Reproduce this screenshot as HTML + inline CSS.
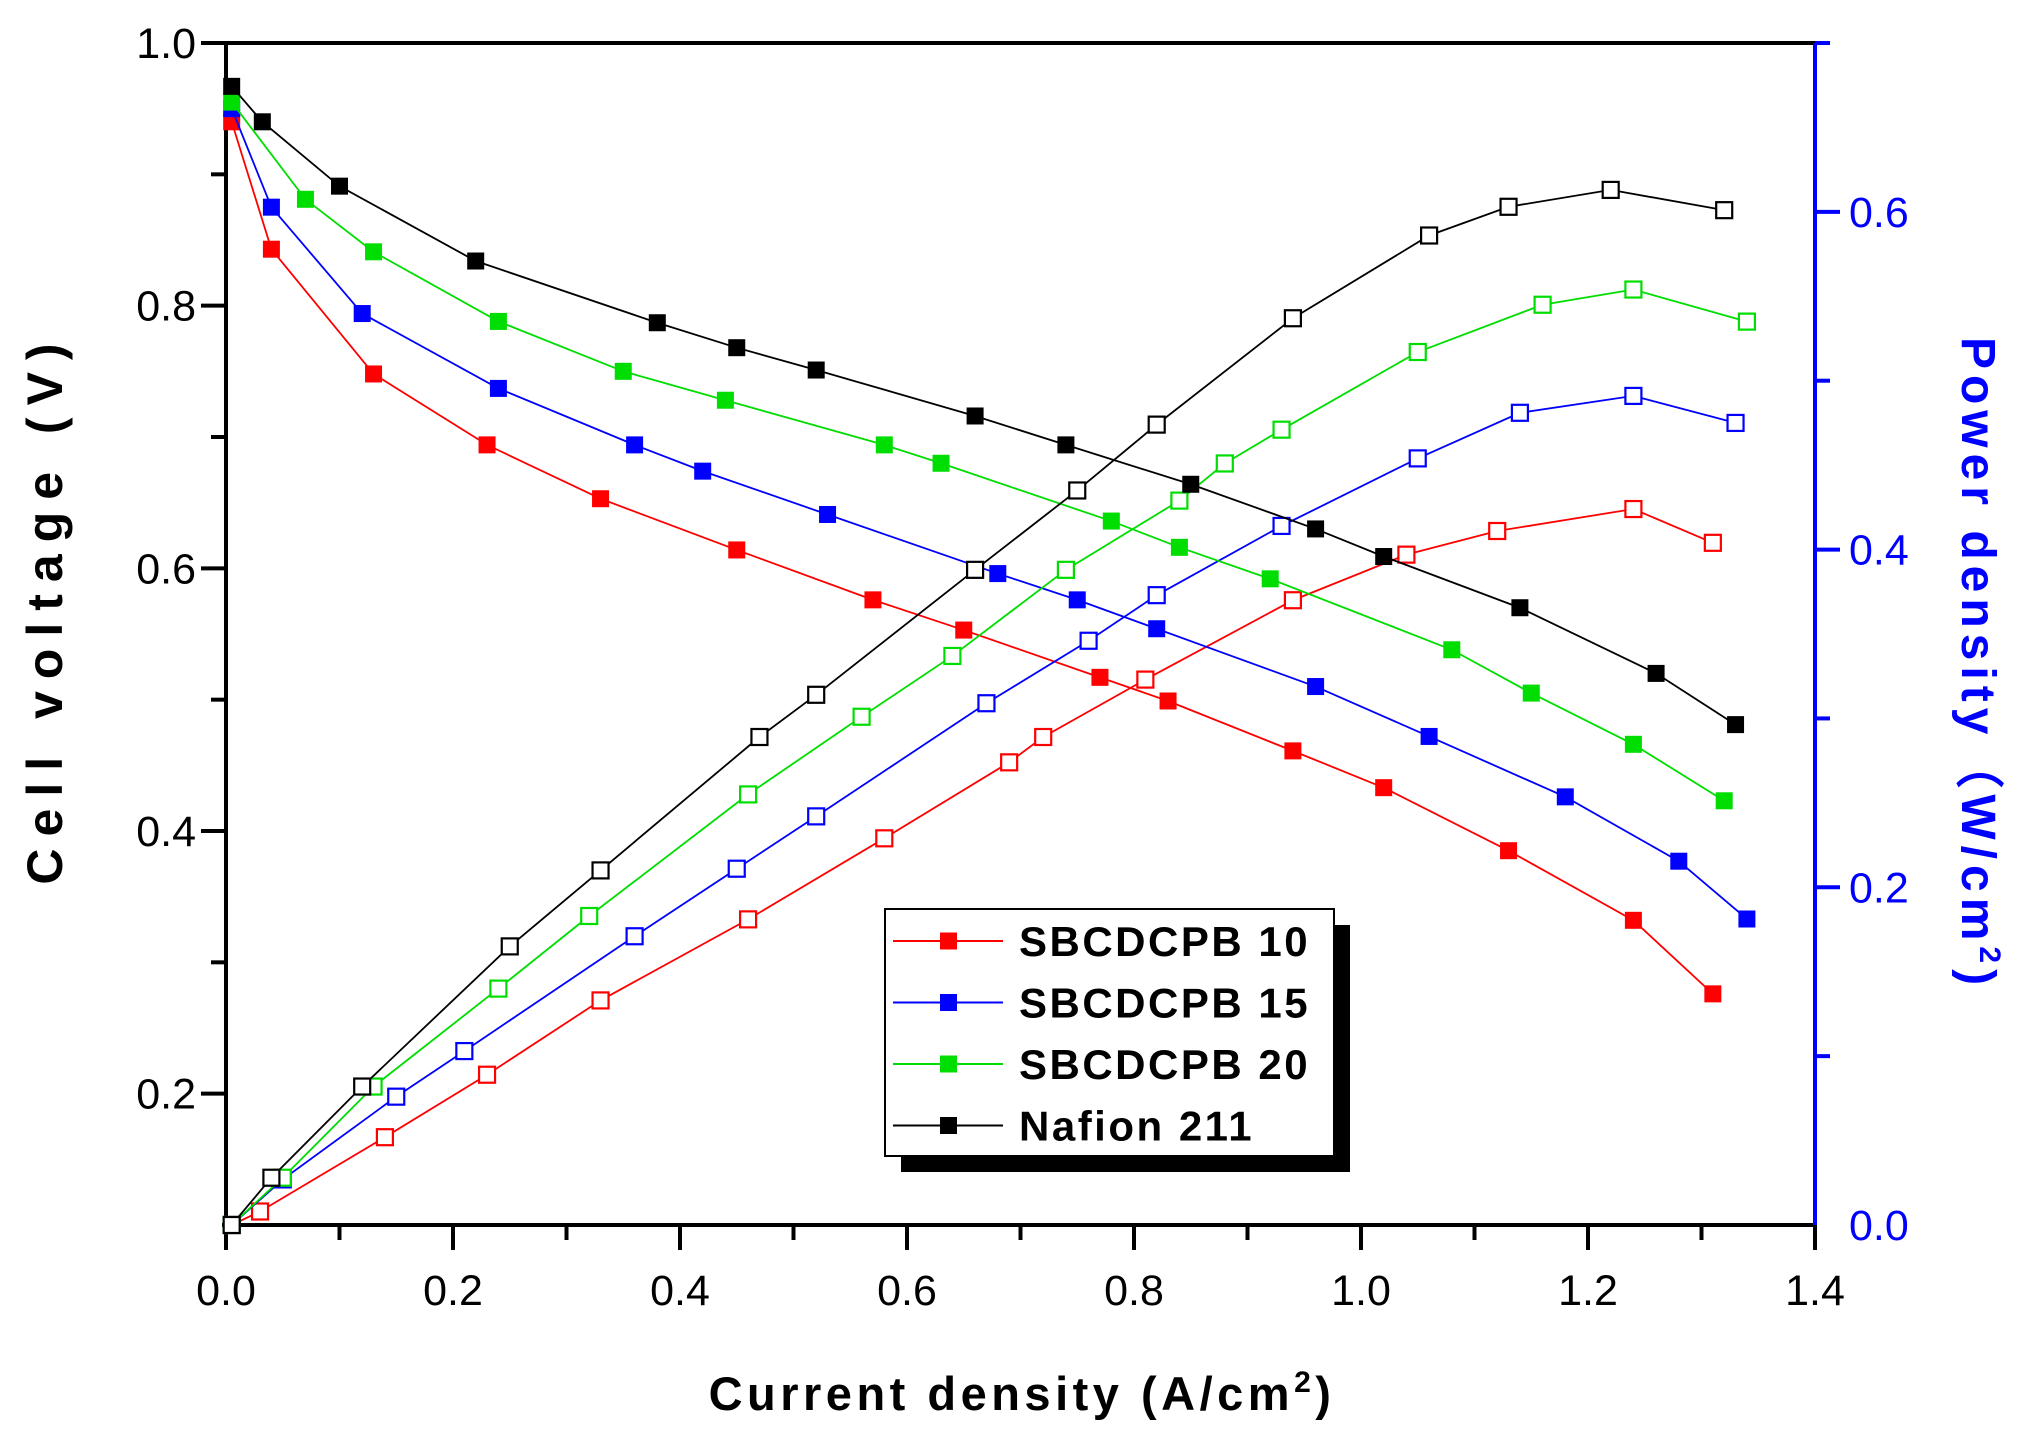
<!DOCTYPE html>
<html><head><meta charset="utf-8"><style>
body{margin:0;background:#fff;}
svg text{font-family:"Liberation Sans",sans-serif;}
</style></head><body>
<svg id="chart" width="2041" height="1443" viewBox="0 0 2041 1443" xmlns="http://www.w3.org/2000/svg">
<g id="axes"></g>
<g id="series"></g>
<g id="legend"></g>
<text x="1022" y="1410" text-anchor="middle" font-size="47" font-weight="bold" letter-spacing="4.5">Current density (A/cm<tspan dy="-18" font-size="30">2</tspan><tspan dy="18">)</tspan></text>
<text transform="translate(62,608) rotate(-90)" text-anchor="middle" font-size="50" font-weight="bold" letter-spacing="12">Cell voltage (V)</text>
<text transform="translate(1962,664) rotate(90)" text-anchor="middle" font-size="48" font-weight="bold" fill="#0000ff" letter-spacing="6">Power density（W/cm<tspan dy="-18" font-size="30">2</tspan><tspan dy="18">)</tspan></text>
</svg>
<script>
const xTicks=[0.0,0.2,0.4,0.6,0.8,1.0,1.2,1.4];
const yLeftTicks=[0.2,0.4,0.6,0.8,1.0];
const yRightTicks=[0.0,0.2,0.4,0.6];
const seriesNames=["SBCDCPB 10","SBCDCPB 15","SBCDCPB 20","Nafion 211"];
const seriesColors=["#ff0000","#0000ff","#00dd00","#000000"];
const redVx=[0.005,0.04,0.13,0.23,0.33,0.45,0.57,0.65,0.77,0.83,0.94,1.02,1.13,1.24,1.31];
const redV=[0.94,0.843,0.748,0.694,0.653,0.614,0.576,0.553,0.517,0.499,0.461,0.433,0.385,0.332,0.276];
const redPx=[0.005,0.03,0.14,0.23,0.33,0.46,0.58,0.69,0.72,0.81,0.94,1.04,1.12,1.24,1.31];
const redP=[0,0.008,0.052,0.089,0.133,0.181,0.229,0.274,0.289,0.323,0.37,0.397,0.411,0.424,0.404];
const blueVx=[0.005,0.04,0.12,0.24,0.36,0.42,0.53,0.68,0.75,0.82,0.96,1.06,1.18,1.28,1.34];
const blueV=[0.95,0.875,0.794,0.737,0.694,0.674,0.641,0.596,0.576,0.554,0.51,0.472,0.426,0.377,0.333];
const bluePx=[0.005,0.05,0.15,0.21,0.36,0.45,0.52,0.67,0.76,0.82,0.93,1.05,1.14,1.24,1.33];
const blueP=[0,0.027,0.076,0.103,0.171,0.211,0.242,0.309,0.346,0.373,0.414,0.454,0.481,0.491,0.475];
const greenVx=[0.005,0.07,0.13,0.24,0.35,0.44,0.58,0.63,0.78,0.84,0.92,1.08,1.15,1.24,1.32];
const greenV=[0.955,0.881,0.841,0.788,0.75,0.728,0.694,0.68,0.636,0.616,0.592,0.538,0.505,0.466,0.423];
const greenPx=[0.005,0.05,0.13,0.24,0.32,0.46,0.56,0.64,0.74,0.84,0.88,0.93,1.05,1.16,1.24,1.34];
const greenP=[0,0.028,0.082,0.14,0.183,0.255,0.301,0.337,0.388,0.429,0.451,0.471,0.517,0.545,0.554,0.535];
const blackVx=[0.005,0.032,0.1,0.22,0.38,0.45,0.52,0.66,0.74,0.85,0.96,1.02,1.14,1.26,1.33];
const blackV=[0.967,0.94,0.891,0.834,0.787,0.768,0.751,0.716,0.694,0.664,0.63,0.609,0.57,0.52,0.481];
const blackPx=[0.005,0.04,0.12,0.25,0.33,0.47,0.52,0.66,0.75,0.82,0.94,1.06,1.13,1.22,1.32];
const blackP=[0,0.028,0.082,0.165,0.21,0.289,0.314,0.388,0.435,0.474,0.537,0.586,0.603,0.613,0.601];

const NS="http://www.w3.org/2000/svg";
const L=226,R=1815,T=43,B=1225;
const sx=v=>L+(v-0)/1.4*(R-L);
const syL=v=>B-(v-0.1)/0.9*(B-T);
const syR=v=>B-v/0.7*(B-T);
function mk(tag,attrs,parent){const e=document.createElementNS(NS,tag);for(const k in attrs)e.setAttribute(k,attrs[k]);parent.appendChild(e);return e;}
const axes=document.getElementById('axes');
let e;
e=mk('line',{x1:L,y1:T,x2:R,y2:T,stroke:'#000','stroke-width':4},axes);


e=mk('line',{x1:L-4,y1:B,x2:R,y2:B,stroke:'#000','stroke-width':4},axes);


e=mk('line',{x1:L,y1:T,x2:L,y2:B+2,stroke:'#000','stroke-width':4},axes);


e=mk('line',{x1:R,y1:T,x2:R,y2:B,stroke:'#0000ff','stroke-width':4},axes);


for(let i=0;i<14;i++){const v=i*0.1+0.1;if(v>1.41)break;const x=sx(v);const major=(i%2===1);
 e=mk('line',{x1:x,y1:B,x2:x,y2:B+(major?25:15),stroke:'#000','stroke-width':4},axes);
 
 }
mk('line',{x1:L,y1:B,x2:L,y2:B+25,stroke:'#000','stroke-width':4},axes);
xTicks.forEach(v=>{e=mk('text',{x:sx(v),y:B+80,'text-anchor':'middle','font-size':43},axes);e.textContent=v.toFixed(1);
 
 });
for(let k=1;k<=9;k++){const v=0.1+k*0.1;const y=syL(v);const major=(k%2===1);
 e=mk('line',{x1:L,y1:y,x2:L-(major?25:15),y2:y,stroke:'#000','stroke-width':4},axes);
 
 }
yLeftTicks.forEach(v=>{e=mk('text',{x:196,y:syL(v)+15,'text-anchor':'end','font-size':43},axes);e.textContent=v.toFixed(1);
 
 });
for(let k=1;k<=7;k++){const v=k*0.1;const y=syR(v);const major=(k%2===0);
 e=mk('line',{x1:R,y1:y,x2:R+(major?25:15),y2:y,stroke:'#0000ff','stroke-width':4},axes);
 
 }
yRightTicks.forEach(v=>{e=mk('text',{x:1849,y:syR(v)+15,'font-size':43,fill:'#0000ff'},axes);e.textContent=v.toFixed(1);
 
 });
const sg=document.getElementById('series');
const sets=[[redVx,redV,redPx,redP],[blueVx,blueV,bluePx,blueP],[greenVx,greenV,greenPx,greenP],[blackVx,blackV,blackPx,blackP]];
const keys=['sbcdcpb-10','sbcdcpb-15','sbcdcpb-20','nafion-211'];
sets.forEach((s,i)=>{const c=seriesColors[i];
 const pv=s[0].map((x,j)=>sx(x)+','+syL(s[1][j])).join(' ');
 e=mk('polyline',{points:pv,fill:'none',stroke:c,'stroke-width':1.8},sg);
 
 
 const pp=s[2].map((x,j)=>sx(x)+','+syR(s[3][j])).join(' ');
 e=mk('polyline',{points:pp,fill:'none',stroke:c,'stroke-width':1.8},sg);
 
 
 s[0].forEach((x,j)=>{e=mk('rect',{x:sx(x)-8.5,y:syL(s[1][j])-8.5,width:17,height:17,fill:c},sg);
  
  });
 s[2].forEach((x,j)=>{e=mk('rect',{x:sx(x)-8,y:syR(s[3][j])-8,width:16,height:16,fill:'#fff',stroke:c,'stroke-width':2.2},sg);
  
  });
});
const lg=document.getElementById('legend');
e=mk('rect',{x:901,y:925,width:449,height:247,fill:'#000'},lg);


e=mk('rect',{x:885,y:909,width:449,height:247,fill:'#fff',stroke:'#000','stroke-width':2},lg);


seriesNames.forEach((n,i)=>{const y=941+i*61.5;
 e=mk('line',{x1:893,y1:y,x2:1003,y2:y,stroke:seriesColors[i],'stroke-width':2},lg);
 
 
 e=mk('rect',{x:940,y:y-8.5,width:17,height:17,fill:seriesColors[i]},lg);
 
 
 e=mk('text',{x:1019,y:y+15,'font-size':42,'font-weight':'bold','letter-spacing':2.5},lg);
 e.textContent=n;
 
 });
</script>
</body></html>
